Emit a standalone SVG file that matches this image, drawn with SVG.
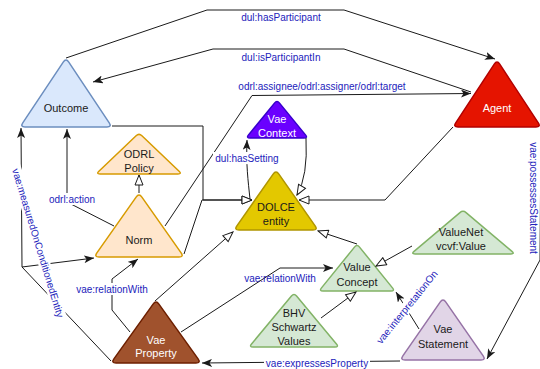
<svg xmlns="http://www.w3.org/2000/svg" width="540" height="369" viewBox="0 0 540 369">
<style>
.e{fill:none;stroke:#1a1a1a;stroke-width:1}
.l{font-family:"Liberation Sans",Arial,Helvetica,sans-serif;font-size:10px;fill:#2222bb;text-anchor:middle}
.n{font-family:"Liberation Sans",Arial,Helvetica,sans-serif;font-size:11px;fill:#1a1a1a;text-anchor:middle}
.w{fill:#ffffff}
.bg{fill:#ffffff}
.blue{fill:#dae8fc;stroke:#6c8ebf;stroke-width:1.5}
.org{fill:#ffe6cc;stroke:#d79b00;stroke-width:1.5}
.grn{fill:#d5e8d4;stroke:#82b366;stroke-width:1.5}
</style>
<defs>
<marker id="a" viewBox="0 0 10 8" refX="10" refY="4" markerWidth="10" markerHeight="8" markerUnits="userSpaceOnUse" orient="auto">
<path d="M0,0 L10,4 L0,8 L2.5,4 Z" fill="#1a1a1a"/>
</marker>
<marker id="h" viewBox="0 0 12 10" refX="11" refY="5" markerWidth="12" markerHeight="10" markerUnits="userSpaceOnUse" orient="auto">
<path d="M1,1 L11,5 L1,9 Z" fill="#ffffff" stroke="#1a1a1a" stroke-width="1"/>
</marker>
</defs>

<g id="outcome">
<path class="blue" d="M63.23,62.16 Q66,58 68.77,62.16 L109.23,122.84 Q112,127 107,127 L25,127 Q20,127 22.77,122.84 Z"/>
<text class="n" x="66" y="111.5">Outcome</text>
</g>
<g id="agent">
<path fill="#e51400" stroke="#b20000" stroke-width="1.5" d="M494.26,64.18 Q497,60 499.74,64.18 L538.26,122.82 Q541,127 536,127 L458,127 Q453,127 455.74,122.82 Z"/>
<text class="n w" x="497" y="111.5">Agent</text>
</g>
<g id="odrl-policy">
<path class="org" d="M136.1,135.76 Q139,133 141.9,135.76 L179.1,171.24 Q182,174 178,174 L100,174 Q96,174 98.9,171.24 Z"/>
<text class="n" x="139" y="158">ODRL</text>
<text class="n" x="139" y="171.5">Policy</text>
</g>
<g id="norm">
<path class="org" d="M136.12,197.09 Q139,193 141.88,197.09 L181.12,252.91 Q184,257 179,257 L99,257 Q94,257 96.88,252.91 Z"/>
<text class="n" x="139" y="244">Norm</text>
</g>
<g id="vae-context">
<path fill="#6a00ff" stroke="#3700cc" stroke-width="1.5" d="M274.47,103.1 Q277,100 279.53,103.1 L305.47,134.9 Q308,138 304,138 L250,138 Q246,138 248.53,134.9 Z"/>
<text class="n w" x="277" y="123">Vae</text>
<text class="n w" x="277" y="137">Context</text>
</g>
<g id="dolce-entity">
<path fill="#e3c800" stroke="#b09500" stroke-width="1.5" d="M273.13,174.1 Q276,170 278.87,174.1 L315.13,225.9 Q318,230 313,230 L239,230 Q234,230 236.87,225.9 Z"/>
<text class="n" x="276" y="211">DOLCE</text>
<text class="n" x="276" y="225">entity</text>
</g>
<g id="value-concept">
<path class="grn" d="M354.48,247.11 Q357,244 359.52,247.11 L392.48,287.89 Q395,291 391,291 L323,291 Q319,291 321.52,287.89 Z"/>
<text class="n" x="357" y="270.5">Value</text>
<text class="n" x="357" y="285.5">Concept</text>
</g>
<g id="valuenet">
<path class="grn" d="M459.95,212.58 Q463,210 466.05,212.58 L511.95,251.42 Q515,254 511,254 L415,254 Q411,254 414.05,251.42 Z"/>
<text class="n" x="461" y="235.5">ValueNet</text>
<text class="n" x="461" y="250">vcvf:Value</text>
</g>
<g id="bhv-schwartz-values">
<path class="grn" d="M291.44,296.07 Q294,293 296.56,296.07 L336.44,343.93 Q339,347 335,347 L253,347 Q249,347 251.56,343.93 Z"/>
<text class="n" x="294" y="317">BHV</text>
<text class="n" x="294" y="331">Schwartz</text>
<text class="n" x="294" y="345">Values</text>
</g>
<g id="vae-statement">
<path fill="#e1d5e7" stroke="#9673a6" stroke-width="1.5" d="M440.15,302.1 Q443,298 445.85,302.1 L483.15,355.9 Q486,360 481,360 L405,360 Q400,360 402.85,355.9 Z"/>
<text class="n" x="443" y="333">Vae</text>
<text class="n" x="443" y="348">Statement</text>
</g>
<g id="vae-property">
<path fill="#a0522d" stroke="#6d1f00" stroke-width="1.5" d="M153.1,304.07 Q156,300 158.9,304.07 L198.1,358.93 Q201,363 196,363 L116,363 Q111,363 113.9,358.93 Z"/>
<text class="n w" x="156" y="344">Vae</text>
<text class="n w" x="156" y="357">Property</text>
</g>

<g id="connectors">
<path class="e" d="M66,58 L207,10 L344,10 L495,59" marker-end="url(#a)"/>
<path class="e" d="M471,92 L344,49 L213,49 L93,82" marker-end="url(#a)"/>
<path class="e" d="M165,226 L252,95.5 L471,93.5" marker-end="url(#a)"/>
<path class="e" d="M112,126 L203,126 L203,200 L252,200" marker-end="url(#h)"/>
<path class="e" d="M184,254 L202,200 L252,200" marker-end="url(#h)"/>
<path class="e" d="M139,193 L139,175" marker-end="url(#h)"/>
<path class="e" d="M306,138 Q308,176 297,195" marker-end="url(#h)"/>
<path class="e" d="M250,199 C248,180 246,165 247,140" marker-end="url(#a)"/>
<path class="e" d="M453,127 L385,200 L299,200" marker-end="url(#h)"/>
<path class="e" d="M357,244 L318,231" marker-end="url(#h)"/>
<path class="e" d="M412,246 L376,266" marker-end="url(#h)"/>
<path class="e" d="M321,318 L356,292" marker-end="url(#h)"/>
<path class="e" d="M419,329 L396,292" marker-end="url(#a)"/>
<path class="e" d="M400,361 L202,363" marker-end="url(#a)"/>
<path class="e" d="M541,127 L540,260 L487,359" marker-end="url(#a)"/>
<path class="e" d="M111,361 L22,267 L21,128" marker-end="url(#a)"/>
<path class="e" d="M22,267 L94,258" marker-end="url(#a)"/>
<path class="e" d="M114,226 L67,202 L67,129" marker-end="url(#a)"/>
<path class="e" d="M130,332 L112,310 L112,279 L138,259" marker-end="url(#a)"/>
<path class="e" d="M181,332 L280,268 L333,268" marker-end="url(#a)"/>
<path class="e" d="M155,301 L233,232" marker-end="url(#h)"/>

<text class="l" x="281" y="20.5">dul:hasParticipant</text>
<text class="l" x="281" y="60.5">dul:isParticipantIn</text>
<text class="l" x="322" y="89.5">odrl:assignee/odrl:assigner/odrl:target</text>
<rect class="bg" x="213" y="152" width="68" height="12"/>
<text class="l" x="247" y="161.8">dul:hasSetting</text>
<rect class="bg" x="49" y="193" width="47" height="12"/>
<text class="l" x="72" y="202.8">odrl:action</text>
<rect class="bg" x="74" y="283" width="76" height="12"/>
<text class="l" x="112" y="292.8">vae:relationWith</text>
<text class="l" x="280" y="281.5">vae:relationWith</text>
<rect class="bg" x="264" y="357" width="106" height="12"/>
<text class="l" x="317" y="366.5">vae:expressesProperty</text>
<g transform="translate(407,307) rotate(-51)">
<rect class="bg" x="-49" y="-6" width="98" height="12"/>
<text class="l" x="0" y="3.5">vae:interpretationOn</text>
</g>
<g transform="translate(38,243) rotate(73)">
<rect class="bg" x="-88" y="-6" width="176" height="12"/>
<text class="l" x="0" y="3.5">vae:measuredOnConditionedEntity</text>
</g>
<g transform="translate(530,198) rotate(90)">
<rect class="bg" x="-58" y="-8" width="116" height="11"/>
<text class="l" x="0" y="0">vae:possessesStatement</text>
</g>
</g>
</svg>
